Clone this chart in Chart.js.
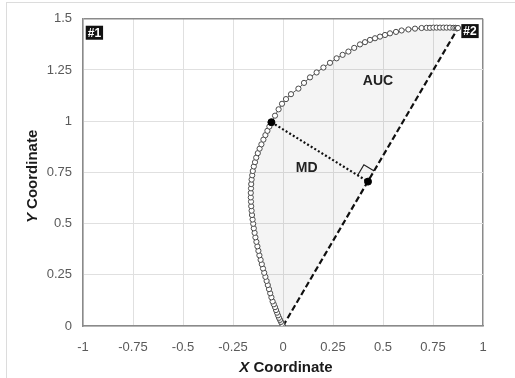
<!DOCTYPE html>
<html><head><meta charset="utf-8">
<script src="https://cdn.jsdelivr.net/npm/chart.js@4/dist/chart.umd.min.js"></script>
<style>
html,body{margin:0;padding:0;background:#fff;}
#wrap{position:relative;width:515px;height:378px;overflow:hidden;}
#frame{position:absolute;left:6px;top:2px;width:600px;height:500px;border:1px solid #dcdcdc;}
canvas{position:absolute;left:0;top:0;}
</style></head><body>
<div id="wrap"><div id="frame"></div><canvas id="c" width="515" height="378"></canvas></div>
<script>
// ---- data ----
const xTicks = [-1, -0.75, -0.5, -0.25, 0, 0.25, 0.5, 0.75, 1];
const yTicks = [0, 0.25, 0.5, 0.75, 1, 1.25, 1.5];
const xTitle = ['X', ' Coordinate'];
const yTitle = ['Y', ' Coordinate'];

const curveX = [0, -0.005, -0.01, -0.015, -0.02, -0.025, -0.03, -0.035, -0.04, -0.046, -0.052, -0.058, -0.064, -0.07, -0.076, -0.082, -0.088, -0.094, -0.1, -0.106, -0.112, -0.118, -0.123, -0.128, -0.133, -0.138, -0.142, -0.146, -0.149, -0.152, -0.155, -0.157, -0.159, -0.16, -0.161, -0.161, -0.16, -0.159, -0.157, -0.154, -0.151, -0.146, -0.14, -0.134, -0.126, -0.117, -0.108, -0.098, -0.088, -0.078, -0.068, -0.058,
  -0.04, -0.022, -0.005, 0.015, 0.04, 0.077, 0.105, 0.135, 0.168, 0.202, 0.235, 0.268, 0.298, 0.327, 0.356, 0.385, 0.41, 0.435, 0.46, 0.485, 0.51, 0.535, 0.565, 0.593, 0.627, 0.66, 0.693, 0.718, 0.735, 0.752, 0.768, 0.785, 0.802, 0.818, 0.835, 0.852, 0.862, 0.87, 0.875];
const curveY = [0, 0.01, 0.02, 0.03, 0.04, 0.052, 0.065, 0.078, 0.092, 0.106, 0.12, 0.14, 0.16, 0.18, 0.2, 0.22, 0.24, 0.26, 0.281, 0.302, 0.323, 0.345, 0.367, 0.389, 0.411, 0.433, 0.455, 0.477, 0.499, 0.52, 0.542, 0.563, 0.585, 0.607, 0.628, 0.65, 0.672, 0.693, 0.715, 0.736, 0.757, 0.779, 0.8, 0.822, 0.844, 0.866, 0.887, 0.91, 0.932, 0.953, 0.974, 0.995,
  1.027, 1.058, 1.085, 1.108, 1.132, 1.159, 1.187, 1.214, 1.238, 1.262, 1.285, 1.307, 1.324, 1.34, 1.358, 1.375, 1.386, 1.397, 1.405, 1.413, 1.421, 1.429, 1.436, 1.443, 1.448, 1.452, 1.455, 1.456, 1.456, 1.457, 1.457, 1.457, 1.457, 1.457, 1.457, 1.456, 1.456, 1.455, 1.455];

const chordX = [0, 0.875];          // dashed straight line start -> end
const chordY = [0, 1.455];
const mdX = [-0.058, 0.425];        // maximum deviation: curve point -> foot on chord
const mdY = [0.995, 0.705];
const squareSize = 0.06;

const labelText = ['#1', '#2', 'AUC', 'MD'];
const labelX = [-0.943, 0.935, 0.475, 0.118];
const labelY = [1.432, 1.44, 1.2, 0.773];
const labelBoxed = [true, true, false, false];

// ---- derived ----
const pts = (xs, ys) => xs.map((x, i) => ({x: x, y: ys[i]}));
const dx = chordX[1] - chordX[0], dy = chordY[1] - chordY[0];
const dl = Math.hypot(dx, dy);
const u1 = {x: dx / dl, y: dy / dl};
const px = mdX[0] - mdX[1], py = mdY[0] - mdY[1];
const pl = Math.hypot(px, py);
const u2 = {x: px / pl, y: py / pl};
const f = {x: mdX[1], y: mdY[1]};
const squarePts = [
  {x: f.x + squareSize * u1.x, y: f.y + squareSize * u1.y},
  {x: f.x + squareSize * (u1.x + u2.x), y: f.y + squareSize * (u1.y + u2.y)},
  {x: f.x + squareSize * u2.x, y: f.y + squareSize * u2.y}
];

const FONT = '"Liberation Sans", Arial, Helvetica, sans-serif';

const decor = {
  id: 'decor',
  afterDatasetsDraw(chart) {
    const ctx = chart.ctx, xs = chart.scales.x, ys = chart.scales.y;
    ctx.save();
    labelText.forEach((t, i) => {
      const cx = xs.getPixelForValue(labelX[i]);
      const cy = ys.getPixelForValue(labelY[i]);
      if (labelBoxed[i]) {
        ctx.font = 'bold 12px ' + FONT;
        const w = ctx.measureText(t).width + 4;
        ctx.fillStyle = '#111';
        ctx.fillRect(cx - w / 2, cy - 7, w, 14);
        ctx.fillStyle = '#fff';
      } else {
        ctx.font = 'bold 14px ' + FONT;
        ctx.fillStyle = '#222';
      }
      ctx.textAlign = 'center';
      ctx.textBaseline = 'middle';
      ctx.fillText(t, cx, cy + 0.5);
    });
    ctx.restore();
  },
  afterDraw(chart) {
    const ctx = chart.ctx, a = chart.chartArea;
    ctx.save();
    ctx.fillStyle = '#1a1a1a';
    ctx.textBaseline = 'middle';
    const drawTitle = (parts, cx, cy, rot) => {
      ctx.save();
      ctx.translate(cx, cy);
      if (rot) ctx.rotate(-Math.PI / 2);
      ctx.font = 'italic bold 15px ' + FONT;
      const w0 = ctx.measureText(parts[0]).width;
      ctx.font = 'bold 15px ' + FONT;
      const w1 = ctx.measureText(parts[1]).width;
      let x = -(w0 + w1) / 2;
      ctx.textAlign = 'left';
      ctx.font = 'italic bold 15px ' + FONT;
      ctx.fillText(parts[0], x, 0);
      ctx.font = 'bold 15px ' + FONT;
      ctx.fillText(parts[1], x + w0, 0);
      ctx.restore();
    };
    drawTitle(xTitle, (a.left + a.right) / 2 + 3, 368, false);
    drawTitle(yTitle, 33, (a.top + a.bottom) / 2 + 4, true);
    ctx.restore();
  }
};

new Chart(document.getElementById('c'), {
  type: 'scatter',
  data: {
    datasets: [
      {data: pts(mdX.slice(0, 1), mdY.slice(0, 1)).concat(pts(mdX.slice(1), mdY.slice(1))), showLine: false,
       pointRadius: 3.5, pointBackgroundColor: '#000', pointBorderColor: '#000', pointBorderWidth: 1},
      {data: pts(curveX, curveY), showLine: true, borderColor: '#5a5a5a', borderWidth: 1,
       pointRadius: 2.6, pointBackgroundColor: '#fff', pointBorderColor: '#4a4a4a', pointBorderWidth: 1,
       fill: 'shape', backgroundColor: 'rgba(0,0,0,0.045)', tension: 0},
      {data: pts(mdX, mdY), showLine: true, borderColor: '#111', borderWidth: 2.2, borderDash: [2, 2.2],
       pointRadius: 0, fill: false},
      {data: pts(chordX, chordY), showLine: true, borderColor: '#111', borderWidth: 2.2, borderDash: [6, 3],
       pointRadius: 0, fill: false},
      {data: squarePts, showLine: true, borderColor: '#222', borderWidth: 1.2, pointRadius: 0, fill: false}
    ]
  },
  options: {
    responsive: false,
    animation: false,
    events: [],
    layout: {padding: {left: 0, top: 17, right: 32, bottom: 0}},
    plugins: {legend: {display: false}, tooltip: {enabled: false}},
    scales: {
      x: {
        type: 'linear', min: -1, max: 1,
        afterBuildTicks: s => { s.ticks = xTicks.map(v => ({value: v})); },
        afterFit: s => { s.height = 52; },
        ticks: {callback: v => String(v), color: '#5a5a5a', padding: 14, font: {family: FONT, size: 13}, maxRotation: 0, autoSkip: false},
        grid: {drawTicks: false, color: c => (c.tick && c.tick.value === 1) ? '#8a8a8a' : '#e0e0e0',
               lineWidth: c => (c.tick && c.tick.value === 1) ? 1.5 : 1},
        border: {color: '#8a8a8a', width: 1.5}
      },
      y: {
        type: 'linear', min: 0, max: 1.5,
        afterBuildTicks: s => { s.ticks = yTicks.map(v => ({value: v})); },
        afterFit: s => { s.width = 83; },
        ticks: {callback: v => String(v), color: '#5a5a5a', padding: 11, font: {family: FONT, size: 13}, autoSkip: false},
        grid: {drawTicks: false, color: c => (c.tick && c.tick.value === 1.5) ? '#8a8a8a' : '#e0e0e0',
               lineWidth: c => (c.tick && c.tick.value === 1.5) ? 1.5 : 1},
        border: {color: '#8a8a8a', width: 1.5}
      }
    }
  },
  plugins: [decor]
});
</script>
</body></html>
